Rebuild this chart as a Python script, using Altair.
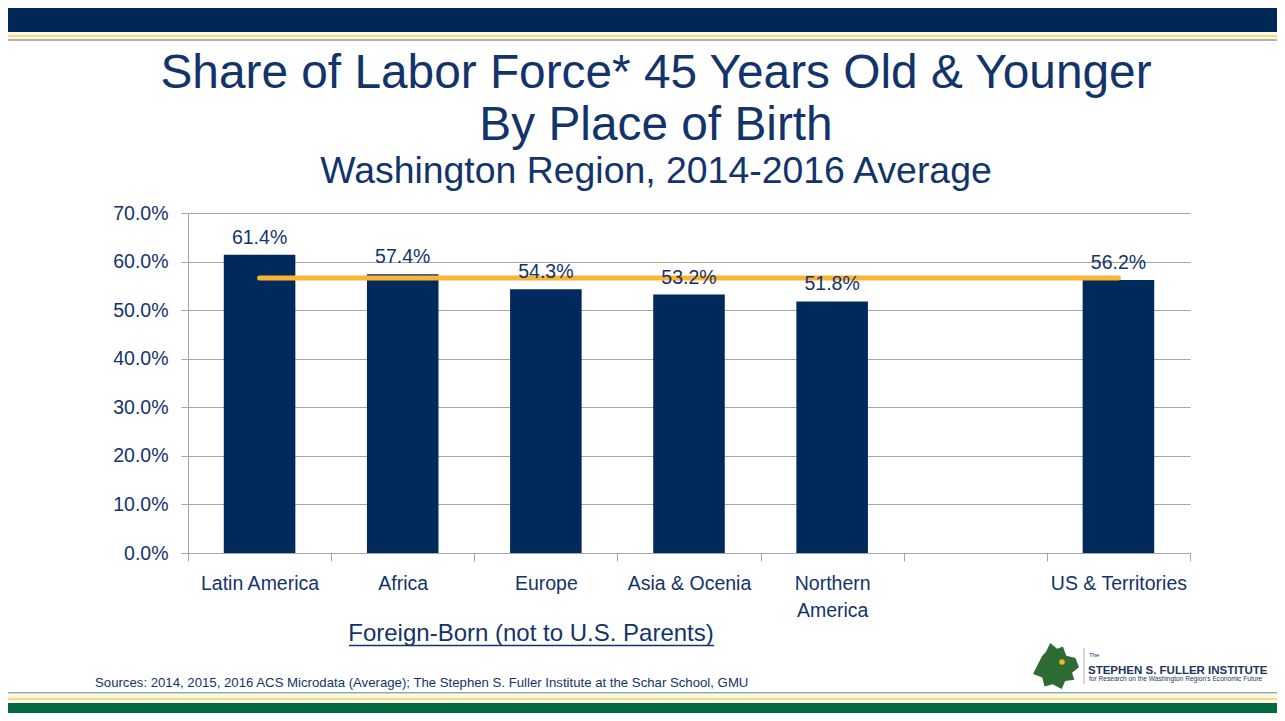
import altair as alt
import pandas as pd

# ---------------- data ----------------
x_domain = ["Latin America", "Africa", "Europe", "Asia & Ocenia",
            "Northern America", " ", "US & Territories"]
bar_regions = ["Latin America", "Africa", "Europe", "Asia & Ocenia",
               "Northern America", "US & Territories"]
bar_shares = [61.4, 57.4, 54.3, 53.2, 51.8, 56.2]
line_regions = x_domain
line_shares = [56.6, 56.6, 56.6, 56.6, 56.6, 56.6, 56.6]
y_ticks = [0, 10, 20, 30, 40, 50, 60, 70]

title_lines = ["Share of Labor Force* 45 Years Old & Younger", "By Place of Birth"]
subtitle_text = "Washington Region, 2014-2016 Average"
group_label = "Foreign-Born (not to U.S. Parents)"
source_note = ("Sources: 2014, 2015, 2016 ACS Microdata (Average); "
               "The Stephen S. Fuller Institute at the Schar School, GMU")
logo_small = "The"
logo_name = "STEPHEN S. FULLER INSTITUTE"
logo_tag = "for Research on the Washington Region's Economic Future"

# ---------------- styles ----------------
NAVY = "#13346a"
BAR = "#002a5c"
GRID = "#a6a6a6"
ORANGE = "#fbb432"
SANS = "Liberation Sans, Arial, sans-serif"

W, H = 1002, 340
PAD = {"left": 180, "top": 205, "right": 87, "bottom": 160}

bars_df = pd.DataFrame({"region": bar_regions, "share": bar_shares})
line_df = pd.DataFrame({"region": line_regions, "share": line_shares})
one = pd.DataFrame({"k": [0]})

x_scale = alt.Scale(domain=x_domain, paddingInner=0, paddingOuter=0)
y_scale = alt.Scale(domain=[0, 70], nice=False, zero=True)

x_enc = alt.X("region:N", scale=x_scale, sort=None,
              axis=alt.Axis(title=None, labelAngle=0, tickBand="extent",
                            domainColor=GRID, tickColor=GRID, tickSize=8,
                            labelFont=SANS, labelFontSize=19.5, labelColor=NAVY,
                            labelPadding=13, labelLineHeight=27, grid=False,
                            labelExpr="datum.label == 'Northern America' ? ['Northern', 'America'] : datum.label"))
y_enc = alt.Y("share:Q", scale=y_scale,
              axis=alt.Axis(title=None, values=y_ticks, grid=True, gridColor=GRID,
                            domainColor=GRID, tickColor=GRID, tickSize=7,
                            labelFont=SANS, labelFontSize=19.5, labelColor=NAVY,
                            labelPadding=13,
                            labelExpr="format(datum.value, '.1f') + '%'"))

bars = alt.Chart(bars_df).mark_bar(width=alt.RelativeBandSize(0.5), color=BAR).encode(
    x=x_enc, y=y_enc)

avg_line = alt.Chart(line_df).mark_line(color=ORANGE, strokeWidth=5, strokeCap="round").encode(
    x=alt.X("region:N", scale=x_scale, sort=None), y=alt.Y("share:Q", scale=y_scale))

value_labels = alt.Chart(bars_df).transform_calculate(
    lab="format(datum.share, '.1f') + '%'"
).mark_text(dy=-11, baseline="alphabetic", font=SANS, fontSize=19.5, color=NAVY).encode(
    x=alt.X("region:N", scale=x_scale, sort=None), y=alt.Y("share:Q", scale=y_scale),
    text="lab:N")


def rect(x1, x2, y1, y2, color):
    return alt.Chart(one).mark_rect(color=color).encode(
        x=alt.value(x1), x2=alt.value(x2), y=alt.value(y1), y2=alt.value(y2))


def text(t, x, y, size, font=SANS, align="center", weight="normal", color=NAVY):
    return alt.Chart(pd.DataFrame({"t": [t]})).mark_text(
        font=font, fontSize=size, align=align, baseline="alphabetic",
        fontWeight=weight, color=color).encode(
        text="t:N", x=alt.value(x), y=alt.value(y))


L, T = -PAD["left"], -PAD["top"]
RIGHT = W + PAD["right"]
BOTTOM = H + PAD["bottom"]
OY = 213  # page y of plot top
OX = 188  # page x of plot left

decor = [
    # top banner
    rect(L, RIGHT, T, T + 24, "#002856"),
    rect(L, RIGHT, T + 24, T + 33, "#fdf7dc"),
    rect(L, RIGHT, T + 27, T + 29, "#f3dc86"),
    rect(L, RIGHT, T + 31, T + 33, "#a9b4c2"),
    # bottom banner
    rect(L, RIGHT, 692 - OY, 693.5 - OY, "#8fae9e"),
    rect(L, RIGHT, 695 - OY, 702 - OY, "#fdf7dc"),
    rect(L, RIGHT, 698 - OY, 700 - OY, "#f3dc86"),
    rect(L, RIGHT, 703 - OY, BOTTOM, "#006940"),
]

titles = [
    text(title_lines[0], 468, 88 - OY, 47.8),
    text(title_lines[1], 468, 140 - OY, 47.8),
    text(subtitle_text, 468, 183 - OY, 37.4),
    text(group_label, 531 - OX, 641 - OY, 24),
    text(source_note, 95 - OX, 687 - OY, 13.2, align="left"),
]

underline = alt.Chart(one).mark_rule(color=NAVY, strokeWidth=1.5).encode(
    x=alt.value(349 - OX), x2=alt.value(714 - OX), y=alt.value(645.5 - OY))

blob_path = ("M-0.25,-1 L0.05,-0.75 L0.3,-0.85 L0.45,-0.45 L0.85,-0.35 L1,0.05 "
             "L0.7,0.3 L0.8,0.6 L0.4,0.65 L0.25,1 L-0.15,0.8 L-0.5,0.9 L-0.6,0.5 "
             "L-1,0.35 L-0.8,-0.05 L-0.6,-0.45 L-0.45,-0.6 Z")
logo_blob = alt.Chart(one).mark_point(shape=blob_path, filled=True, opacity=1,
                                      color="#2f6b35", size=2100).encode(
    x=alt.value(1056 - OX), y=alt.value(666 - OY))
logo_dot = alt.Chart(one).mark_point(shape="circle", filled=True, opacity=1,
                                     color="#f2b530", size=30).encode(
    x=alt.value(1062 - OX), y=alt.value(662 - OY))
logo_sep = alt.Chart(one).mark_rule(color="#b0b0b0", strokeWidth=1).encode(
    x=alt.value(1084 - OX), y=alt.value(648 - OY), y2=alt.value(684 - OY))
logo_texts = [
    text(logo_small, 1089 - OX, 657 - OY, 6, align="left", color="#1b365d"),
    text(logo_name, 1088 - OX, 673.5 - OY, 11.5, align="left", weight="bold",
         color="#1b365d"),
    text(logo_tag, 1089 - OX, 681 - OY, 6.6, align="left", color="#1b365d"),
]

chart = alt.layer(
    *decor, bars, avg_line, value_labels, *titles, underline,
    logo_blob, logo_dot, logo_sep, *logo_texts
).properties(
    width=W, height=H, padding=PAD,
    autosize=alt.AutoSizeParams(type="none"),
    background="white",
).configure_view(stroke=None)

chart.save("out.html", embed_options={"renderer": "svg", "actions": False})
